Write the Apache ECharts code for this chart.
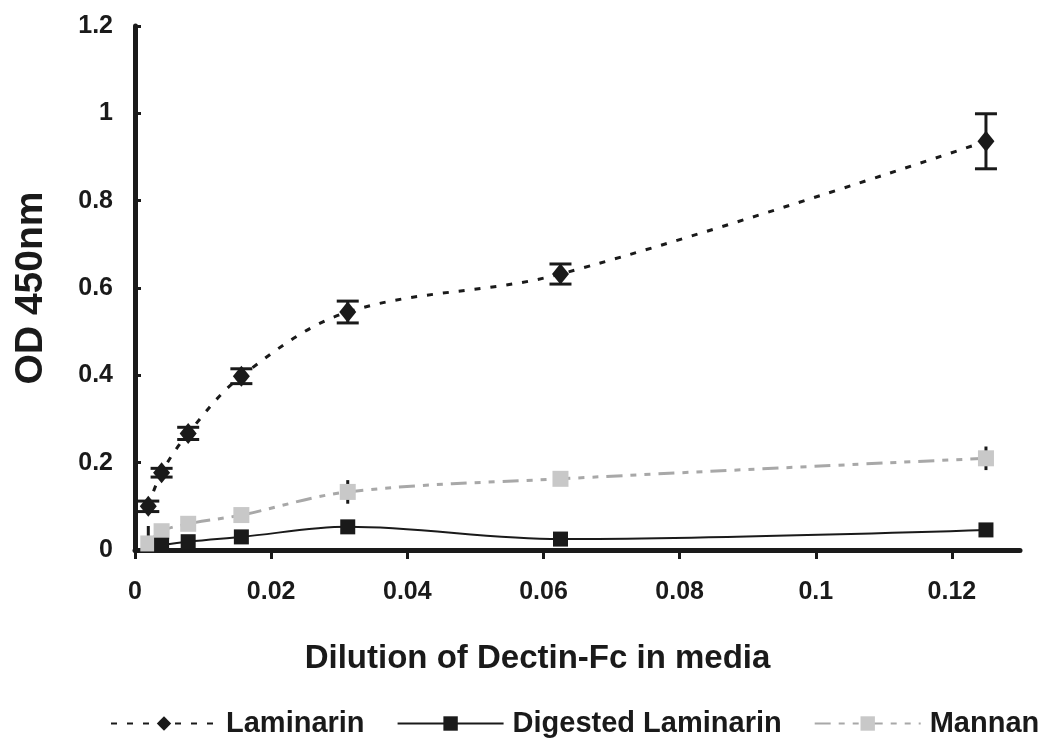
<!DOCTYPE html>
<html>
<head>
<meta charset="utf-8">
<script src="https://cdn.jsdelivr.net/npm/echarts@6/dist/echarts.min.js"></script>
<style>
  html, body { margin: 0; padding: 0; background: #fff; }
  #chart { width: 1049px; height: 747px; }
</style>
</head>
<body>
<div id="chart"></div>
<script>
// dilution of Dectin-Fc (two-fold series)
var dilution = [0.001953125, 0.00390625, 0.0078125, 0.015625, 0.03125, 0.0625, 0.125];

var laminarin    = [0.100, 0.177, 0.267, 0.398, 0.545, 0.632, 0.936];
var laminarinErr = [0.012, 0.010, 0.014, 0.017, 0.025, 0.023, 0.063];
var digested     = [null, 0.011, 0.019, 0.030, 0.053, 0.025, 0.046];
var mannan       = [0.015, 0.043, 0.060, 0.080, 0.133, 0.163, 0.210];
var mannanErr    = [0.040, 0.008, 0.008, 0.010, 0.027, 0.012, 0.027];

var xTicks = [0, 0.02, 0.04, 0.06, 0.08, 0.1, 0.12];
var yTicks = [0, 0.2, 0.4, 0.6, 0.8, 1, 1.2];

var FONT = '"Liberation Sans", Arial, sans-serif';
var INK = '#1a1a1a';

function pairs(ys) {
  return dilution.map(function (x, i) { return [x, ys[i]]; });
}
function errData(ys, errs) {
  return dilution.map(function (x, i) { return [x, ys[i], errs[i]]; });
}

// vertical error bar, optional caps
function errorBars(capW) {
  return function (params, api) {
    var x = api.value(0), y = api.value(1), e = api.value(2);
    var top = api.coord([x, y + e]);
    var bot = api.coord([x, Math.max(0, y - e)]);
    var kids = [{
      type: 'line',
      shape: { x1: top[0], y1: top[1], x2: bot[0], y2: bot[1] },
      style: { stroke: INK, lineWidth: 3 }
    }];
    if (capW) {
      kids.push({ type: 'line', shape: { x1: top[0] - capW / 2, y1: top[1], x2: top[0] + capW / 2, y2: top[1] }, style: { stroke: INK, lineWidth: 3 } });
      kids.push({ type: 'line', shape: { x1: bot[0] - capW / 2, y1: bot[1], x2: bot[0] + capW / 2, y2: bot[1] }, style: { stroke: INK, lineWidth: 3 } });
    }
    return { type: 'group', children: kids };
  };
}

var chart = echarts.init(document.getElementById('chart'));

chart.setOption({
  backgroundColor: '#fff',
  animation: false,
  textStyle: { fontFamily: FONT },
  grid: { left: 135, right: 29, top: 26, bottom: 197 },
  legend: {
    data: ['Laminarin', 'Digested Laminarin', 'Mannan'],
    top: 709,
    left: 110,
    padding: 0,
    itemWidth: 106,
    itemHeight: 18,
    itemGap: 32,
    textStyle: { fontFamily: FONT, fontSize: 29, fontWeight: 'bold', color: INK, padding: [0, 0, 0, 4] }
  },
  xAxis: {
    type: 'value',
    min: 0,
    max: 0.13,
    interval: 0.02,
    name: 'Dilution of Dectin-Fc in media',
    nameLocation: 'middle',
    nameGap: 92,
    nameTextStyle: { fontSize: 33, fontWeight: 'bold', color: INK, padding: [0, 80, 0, 0] },
    axisLine: { lineStyle: { color: INK, width: 5 } },
    axisTick: { show: true, inside: false, length: 9, lineStyle: { color: INK, width: 3 }, customValues: xTicks },
    axisLabel: { fontSize: 25, fontWeight: 'bold', color: INK, margin: 30, customValues: xTicks },
    splitLine: { show: false }
  },
  yAxis: {
    type: 'value',
    min: 0,
    max: 1.2,
    interval: 0.2,
    name: 'OD 450nm',
    nameLocation: 'middle',
    nameGap: 84,
    nameTextStyle: { fontSize: 39, fontWeight: 'bold', color: INK },
    axisLine: { show: true, lineStyle: { color: INK, width: 5 } },
    axisTick: { show: true, inside: true, length: 6, lineStyle: { color: INK, width: 3 }, customValues: yTicks },
    axisLabel: { fontSize: 25, fontWeight: 'bold', color: INK, margin: 22, customValues: yTicks },
    splitLine: { show: false }
  },
  series: [
    {
      name: 'Mannan',
      type: 'line',
      data: pairs(mannan),
      smooth: 0.35,
      symbol: 'rect',
      symbolSize: 16,
      itemStyle: { color: '#c8c8c8' },
      lineStyle: { color: '#a8a8a8', width: 3, type: [16, 8, 6, 8, 6, 8] },
      z: 2
    },
    {
      type: 'custom',
      renderItem: errorBars(0),
      data: errData(mannan, mannanErr),
      encode: { x: 0, y: 1 },
      clip: true,
      z: 1
    },
    {
      name: 'Digested Laminarin',
      type: 'line',
      data: pairs(digested),
      smooth: 0.35,
      symbol: 'rect',
      symbolSize: 15,
      itemStyle: { color: INK },
      lineStyle: { color: INK, width: 2 },
      z: 3
    },
    {
      type: 'custom',
      renderItem: errorBars(22),
      data: errData(laminarin, laminarinErr),
      encode: { x: 0, y: 1 },
      clip: true,
      z: 4
    },
    {
      name: 'Laminarin',
      type: 'line',
      data: pairs(laminarin),
      smooth: 0.35,
      symbol: 'diamond',
      symbolSize: [17, 21],
      itemStyle: { color: INK },
      lineStyle: { color: INK, width: 3, type: [6, 10] },
      z: 5
    }
  ]
});
</script>
</body>
</html>
